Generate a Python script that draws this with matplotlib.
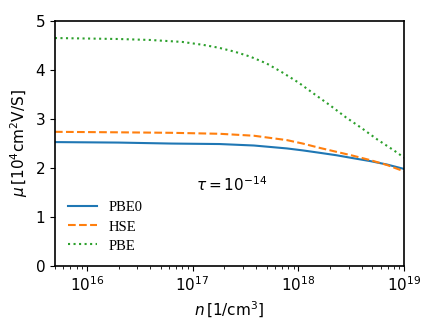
import matplotlib
matplotlib.use("Agg")
import matplotlib.pyplot as plt

# carrier density [1/cm^3] and mobility [10^4 cm^2/Vs]
n_pbe0 = [5e15, 2e16, 6.3e16, 1.8e17, 3.8e17, 7.8e17, 1.1e18, 1.6e18, 2.3e18, 3.3e18, 4.8e18, 6.9e18, 1e19]
mu_pbe0 = [2.53, 2.52, 2.50, 2.49, 2.46, 2.40, 2.36, 2.31, 2.26, 2.20, 2.14, 2.07, 1.98]

n_hse = [5e15, 2e16, 6.3e16, 1.8e17, 3.8e17, 7.8e17, 1.1e18, 1.6e18, 2.3e18, 3.3e18, 4.8e18, 6.9e18, 1e19]
mu_hse = [2.74, 2.73, 2.72, 2.70, 2.66, 2.57, 2.50, 2.41, 2.33, 2.25, 2.16, 2.06, 1.93]

n_pbe = [5e15, 1e16, 2e16, 4e16, 8e16, 1.26e17, 1.78e17, 2.5e17, 3.5e17, 5e17, 7e17,
         1e18, 1.4e18, 2e18, 2.8e18, 4e18, 5.6e18, 8e18, 1e19]
mu_pbe = [4.66, 4.65, 4.64, 4.62, 4.58, 4.52, 4.46, 4.38, 4.28, 4.14, 3.96,
          3.75, 3.52, 3.28, 3.04, 2.81, 2.58, 2.36, 2.21]

fig = plt.figure(figsize=(4.36, 3.27), dpi=100)
ax = fig.add_axes([0.126, 0.1875, 0.801, 0.747])

ax.plot(n_pbe0, mu_pbe0, color="#1f77b4", linestyle="-", lw=1.5, label="PBE0")
ax.plot(n_hse, mu_hse, color="#ff7f0e", linestyle="--", lw=1.5, label="HSE")
ax.plot(n_pbe, mu_pbe, color="#2ca02c", linestyle=":", lw=1.5, label="PBE")

ax.set_xscale("log")
ax.set_xlim(5e15, 1e19)
ax.set_ylim(0, 5)
ax.set_xlabel(r"$n\,[1/\mathrm{cm}^3]$", fontsize=11)
ax.set_ylabel(r"$\mu\,[10^4\mathrm{cm}^2\mathrm{V/S}]$", fontsize=11)
ax.tick_params(labelsize=11)
for s in ax.spines.values():
    s.set_linewidth(1.2)

ax.text(0.507, 0.33, r"$\tau = 10^{-14}$", transform=ax.transAxes,
        ha="center", va="center", fontsize=11)

ax.legend(loc="lower left", frameon=False, prop={"family": "Liberation Serif", "size": 10.5},
          handlelength=2.0, labelspacing=0.4, bbox_to_anchor=(0.0, 0.0))

fig.savefig("out.png", dpi=100)
